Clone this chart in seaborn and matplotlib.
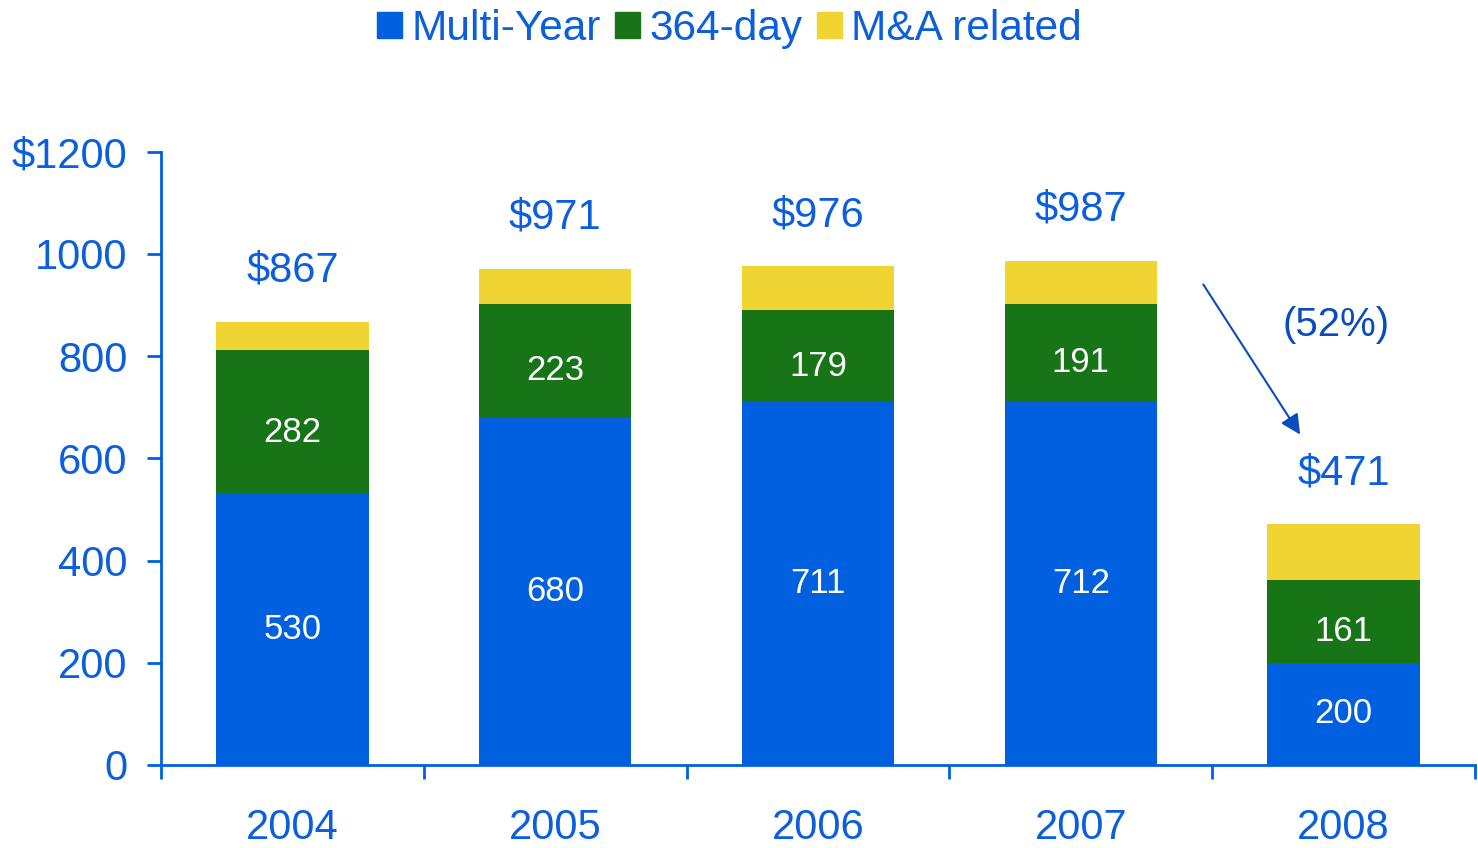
import matplotlib
matplotlib.use("Agg")
import matplotlib.pyplot as plt
from matplotlib.patches import Patch
import seaborn as sns
import numpy as np
import pandas as pd

# data
years = ["2004", "2005", "2006", "2007", "2008"]
multi_year = [530, 680, 711, 712, 200]
day_364 = [282, 223, 179, 191, 161]
totals = [867, 971, 976, 987, 471]
ma_related = [t - m - d for t, m, d in zip(totals, multi_year, day_364)]

y_ticks = [0, 200, 400, 600, 800, 1000, 1200]
y_labels = ["0", "200", "400", "600", "800", "1000", "$1200"]
change_label = "(52%)"

BLUE = "#0060E0"
GREEN = "#177517"
YELLOW = "#F0D432"
TXT = "#0B5FDF"
DARK = "#0A4BBF"

sns.set_theme(style="white")
plt.rcParams["font.family"] = ["Liberation Sans", "DejaVu Sans"]

fig = plt.figure(figsize=(14.78, 8.48), dpi=100)
ax = fig.add_axes([0.109, 0.098, 0.889, 0.723])

df = pd.DataFrame({"year": years, "multi": multi_year, "d364": day_364, "ma": ma_related})
bottom1 = np.array(multi_year)
bottom2 = bottom1 + np.array(day_364)

w = 0.58
sns.barplot(data=df, x="year", y="multi", color=BLUE, width=w, saturation=1,
            errorbar=None, ax=ax, linewidth=0)
sns.barplot(data=df, x="year", y="d364", bottom=bottom1, color=GREEN, width=w,
            saturation=1, errorbar=None, ax=ax, linewidth=0)
sns.barplot(data=df, x="year", y="ma", bottom=bottom2, color=YELLOW, width=w,
            saturation=1, errorbar=None, ax=ax, linewidth=0)

# segment labels
for i in range(len(years)):
    ax.text(i, multi_year[i] / 2, str(multi_year[i]), ha="center", va="center",
            color="white", fontsize=25)
    ax.text(i, multi_year[i] + day_364[i] / 2 - 20, str(day_364[i]), ha="center",
            va="center", color="white", fontsize=25)
    ax.text(i, totals[i] + 100, f"${totals[i]}", ha="center", va="center",
            color=TXT, fontsize=30)

# drop arrow
ax.annotate("", xy=(3.84, 642), xytext=(3.46, 945),
            arrowprops=dict(arrowstyle="-|>", color=DARK, lw=1.5, mutation_scale=30))
ax.text(3.97, 861, change_label, ha="center", va="center", color=DARK, fontsize=29)

ax.set_xlim(-0.5, 4.5)
ax.set_ylim(0, 1200)
ax.set_yticks(y_ticks)
ax.set_yticklabels(y_labels)
ax.set_xlabel("")
ax.set_ylabel("")

# tick marks at category boundaries
ax.set_xticks(np.arange(-0.5, 5, 1), minor=True)
ax.tick_params(axis="x", which="major", bottom=False, length=0, pad=31, labelsize=30,
               colors=TXT)
ax.tick_params(axis="x", which="minor", bottom=True, length=10, width=2, color=BLUE,
               direction="out")
ax.tick_params(axis="y", left=True, length=10, width=2, color=BLUE, direction="out",
               pad=14, labelsize=30, labelcolor=TXT)

sns.despine(ax=ax)
for s in ["left", "bottom"]:
    ax.spines[s].set_color(BLUE)
    ax.spines[s].set_linewidth(2)

handles = [Patch(color=BLUE, label="Multi-Year"),
           Patch(color=GREEN, label="364-day"),
           Patch(color=YELLOW, label="M&A related")]
leg = fig.legend(handles=handles, loc="center", bbox_to_anchor=(0.4936, 0.966), ncol=3,
                 frameon=False, fontsize=30.5, handlelength=0.58, handleheight=0.58,
                 handletextpad=0.22, columnspacing=0.35, borderaxespad=0)
for t in leg.get_texts():
    t.set_color(TXT)

fig.savefig("out.png", dpi=100)
